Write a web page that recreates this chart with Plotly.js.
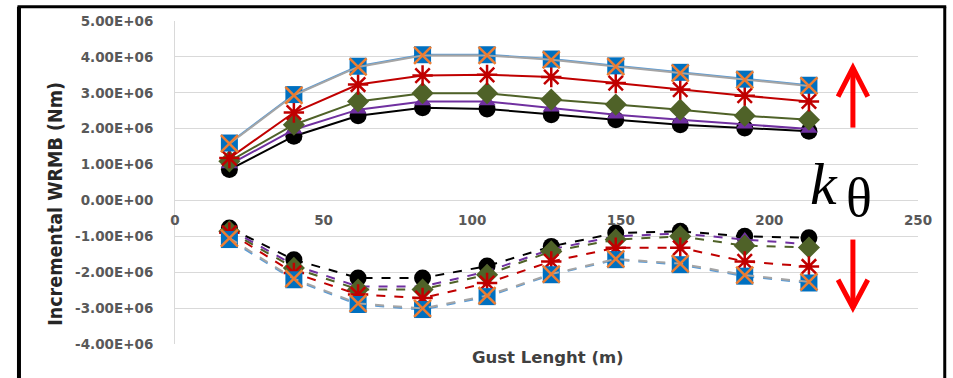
<!DOCTYPE html>
<html>
<head>
<meta charset="utf-8">
<script src="https://cdn.plot.ly/plotly-3.0.1.min.js"></script>
<style>
  html, body { margin: 0; padding: 0; background: #ffffff; }
  #chart { width: 953px; height: 378px; }
</style>
</head>
<body>
<div id="chart"></div>
<script>
// Gust length 2H (m)
const gustLength = [18.3, 40.0, 61.6, 83.3, 105.0, 126.6, 148.3, 170.0, 191.7, 213.3];

// Incremental WRMB, positive (up-gust) envelope, N·m
const upBlack  = [0.86e6, 1.79e6, 2.36e6, 2.58e6, 2.55e6, 2.39e6, 2.25e6, 2.11e6, 2.02e6, 1.93e6];
const upPurple = [1.00e6, 1.97e6, 2.53e6, 2.76e6, 2.76e6, 2.58e6, 2.39e6, 2.25e6, 2.11e6, 1.99e6];
const upGreen  = [1.09e6, 2.11e6, 2.76e6, 2.99e6, 2.99e6, 2.81e6, 2.67e6, 2.53e6, 2.36e6, 2.25e6];
const upRed    = [1.18e6, 2.45e6, 3.23e6, 3.48e6, 3.50e6, 3.44e6, 3.27e6, 3.09e6, 2.92e6, 2.76e6];
const upBlue   = [1.60e6, 2.95e6, 3.74e6, 4.06e6, 4.06e6, 3.94e6, 3.75e6, 3.57e6, 3.38e6, 3.21e6];
const upOrange = [1.58e6, 2.93e6, 3.72e6, 4.04e6, 4.04e6, 3.92e6, 3.73e6, 3.55e6, 3.36e6, 3.19e6];

// Incremental WRMB, negative (down-gust) envelope, N·m
const dnBlack  = [-0.77e6, -1.65e6, -2.16e6, -2.16e6, -1.83e6, -1.28e6, -0.91e6, -0.86e6, -1.00e6, -1.04e6];
const dnPurple = [-0.80e6, -1.80e6, -2.40e6, -2.40e6, -1.98e6, -1.36e6, -1.00e6, -0.92e6, -1.09e6, -1.22e6];
const dnGreen  = [-0.86e6, -1.88e6, -2.48e6, -2.48e6, -2.07e6, -1.42e6, -1.09e6, -1.00e6, -1.26e6, -1.31e6];
const dnRed    = [-0.90e6, -2.02e6, -2.62e6, -2.72e6, -2.30e6, -1.70e6, -1.32e6, -1.32e6, -1.70e6, -1.84e6];
const dnBlue   = [-1.09e6, -2.21e6, -2.90e6, -3.04e6, -2.68e6, -2.07e6, -1.65e6, -1.79e6, -2.11e6, -2.30e6];
const dnOrange = [-1.05e6, -2.18e6, -2.87e6, -3.01e6, -2.65e6, -2.05e6, -1.63e6, -1.76e6, -2.08e6, -2.27e6];

// Axis ticks
const xTickVals = [0, 50, 100, 150, 200, 250];
const yTickVals = [5e6, 4e6, 3e6, 2e6, 1e6, 0, -1e6, -2e6, -3e6, -4e6];
const yTickText = ['5.00E+06', '4.00E+06', '3.00E+06', '2.00E+06', '1.00E+06', '0.00E+00',
                   '-1.00E+06', '-2.00E+06', '-3.00E+06', '-4.00E+06'];

// Series styles, drawn in this order (later ones on top)
const styles = [
  { line: '#000000', marker: { symbol: 'circle', size: 17, color: '#000000' } },
  { line: '#7030A0', marker: { symbol: 'triangle-up', size: 15, color: '#7030A0' } },
  { line: '#4F6228', marker: { symbol: 'diamond', size: 17, color: '#4F6228' } },
  { line: '#C00000', marker: { symbol: 'asterisk-open', size: 17, color: '#C00000', line: { color: '#C00000', width: 2.5 } } },
  { line: '#5B9BD5', marker: { symbol: 'square', size: 17, color: '#0070C0' } },
  { line: '#A5A5A5', marker: { symbol: 'x-thin-open', size: 17, color: '#ED7D31', line: { color: '#ED7D31', width: 2.5 } } }
];

const upSets = [upBlack, upPurple, upGreen, upRed, upBlue, upOrange];
const dnSets = [dnBlack, dnPurple, dnGreen, dnRed, dnBlue, dnOrange];

const traces = [];
upSets.forEach((ys, i) => {
  traces.push({
    x: gustLength, y: ys, type: 'scatter', mode: 'lines+markers',
    line: { color: styles[i].line, width: 2 },
    marker: styles[i].marker, showlegend: false, hoverinfo: 'x+y'
  });
});
dnSets.forEach((ys, i) => {
  traces.push({
    x: gustLength, y: ys, type: 'scatter', mode: 'lines+markers',
    line: { color: styles[i].line, width: 2, dash: 'dash' },
    marker: styles[i].marker, showlegend: false, hoverinfo: 'x+y'
  });
});

const tickFont = { family: 'DejaVu Sans, Arial, sans-serif', size: 13.5, color: '#595959', weight: 'bold' };

// Stiffness-trend arrows (data coordinates)
const arrowX = 228.1, arrowHalf = 5.0;
const upArrow = { base: 2.03e6, tip: 3.70e6, head: 2.89e6 };
const dnArrow = { base: -1.09e6, tip: -2.99e6, head: -2.21e6 };
const arrowStyle = { color: '#FF0000', width: 5 };

const shapes = [
  // outer frame
  { type: 'line', xref: 'paper', yref: 'paper', x0: -0.210, x1: -0.210, y0: 1.044, y1: -0.2, line: { color: '#000000', width: 4 } },
  { type: 'line', xref: 'paper', yref: 'paper', x0: -0.212, x1: 1.038, y0: 1.044, y1: 1.044, line: { color: '#000000', width: 3 } },
  { type: 'line', xref: 'paper', yref: 'paper', x0: 1.036, x1: 1.036, y0: 1.044, y1: -0.2, line: { color: '#000000', width: 3 } },
  // up arrow
  { type: 'line', xref: 'x', yref: 'y', x0: arrowX, x1: arrowX, y0: upArrow.base, y1: upArrow.tip, line: arrowStyle },
  { type: 'path', xref: 'x', yref: 'y',
    path: `M${arrowX - arrowHalf},${upArrow.head} L${arrowX},${upArrow.tip} L${arrowX + arrowHalf},${upArrow.head}`,
    line: arrowStyle },
  // down arrow
  { type: 'line', xref: 'x', yref: 'y', x0: arrowX, x1: arrowX, y0: dnArrow.base, y1: dnArrow.tip, line: arrowStyle },
  { type: 'path', xref: 'x', yref: 'y',
    path: `M${arrowX - arrowHalf},${dnArrow.head} L${arrowX},${dnArrow.tip} L${arrowX + arrowHalf},${dnArrow.head}`,
    line: arrowStyle }
];

const annotations = [
  { text: 'Incremental WRMB (Nm)', xref: 'paper', yref: 'paper', x: -0.1602, y: 0.434,
    textangle: -90, showarrow: false, xanchor: 'center', yanchor: 'middle',
    font: { family: 'Liberation Sans Narrow, DejaVu Sans Condensed, Arial Narrow, sans-serif', size: 19.5, color: '#262626', weight: 'bold' } },
  { text: 'Gust Lenght (m)', xref: 'paper', yref: 'paper', x: 0.502, y: -0.006,
    showarrow: false, xanchor: 'center', yanchor: 'top',
    font: { family: 'DejaVu Sans, Arial, sans-serif', size: 16.5, color: '#404040', weight: 'bold' } },
  { text: '<i>k</i>', xref: 'x', yref: 'y', x: 218.5, y: 0.45e6, showarrow: false,
    xanchor: 'center', yanchor: 'middle',
    font: { family: 'Liberation Serif, DejaVu Serif, serif', size: 60, color: '#000000' } },
  { text: 'θ', xref: 'x', yref: 'y', x: 230.3, y: 0.08e6, showarrow: false,
    xanchor: 'center', yanchor: 'middle',
    font: { family: 'Liberation Serif, DejaVu Serif, serif', size: 54, color: '#000000' } }
];

const layout = {
  width: 953, height: 378,
  margin: { l: 175, r: 35, t: 21, b: 34, pad: 0 },
  paper_bgcolor: '#ffffff', plot_bgcolor: '#ffffff',
  showlegend: false,
  xaxis: {
    range: [0, 250], tickvals: xTickVals, showgrid: false, zeroline: false, showline: false,
    anchor: 'free', position: 4 / 9, ticks: '', tickfont: tickFont, ticklabelstandoff: 10,
    fixedrange: true
  },
  yaxis: {
    range: [-4e6, 5e6], tickvals: yTickVals, ticktext: yTickText,
    showgrid: true, gridcolor: '#D9D9D9', gridwidth: 1,
    zeroline: false, showline: true, linecolor: '#D9D9D9', linewidth: 1,
    ticks: '', tickfont: tickFont, ticklabelstandoff: 18, fixedrange: true
  },
  shapes: shapes,
  annotations: annotations
};

Plotly.newPlot('chart', traces, layout, { displayModeBar: false, staticPlot: true });
</script>
</body>
</html>
